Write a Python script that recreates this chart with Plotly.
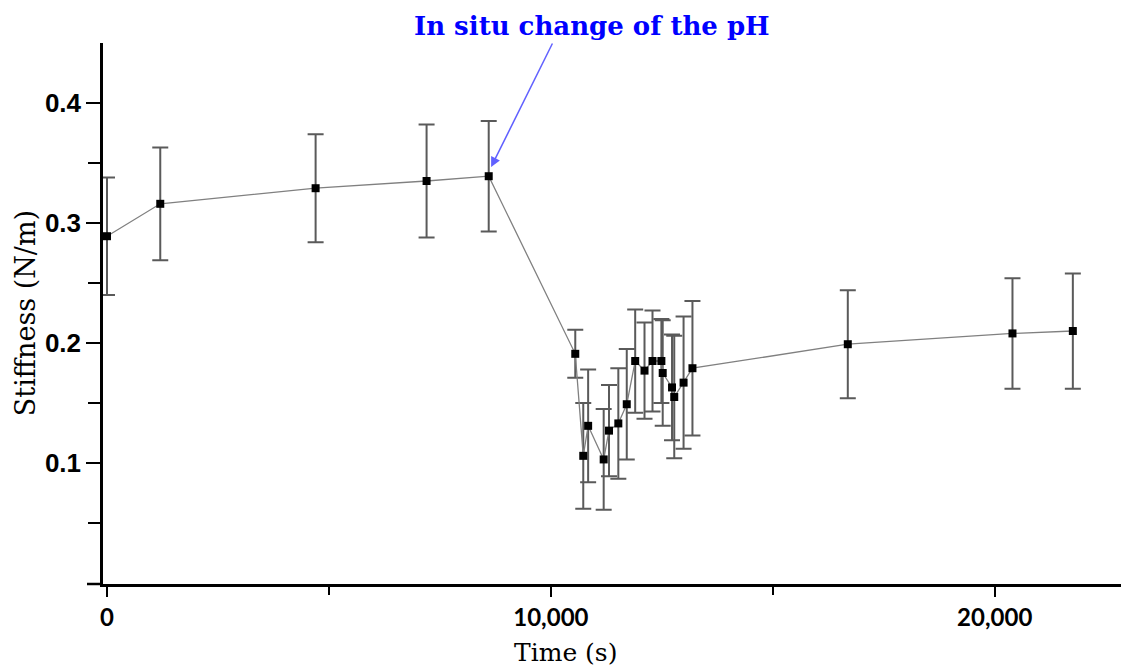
import plotly.graph_objects as go

# Data
time_s = [0, 1200, 4700, 7200, 8600, 10550, 10730, 10840, 11190, 11310, 11520,
          11710, 11900, 12110, 12290, 12490, 12520, 12730, 12780, 12990, 13190,
          16690, 20400, 21760]
stiffness = [0.289, 0.316, 0.329, 0.335, 0.339, 0.191, 0.106, 0.131, 0.103, 0.127,
             0.133, 0.149, 0.185, 0.177, 0.185, 0.185, 0.175, 0.163, 0.155, 0.167,
             0.179, 0.199, 0.208, 0.210]
stiff_err = [0.049, 0.047, 0.045, 0.047, 0.046, 0.020, 0.044, 0.047, 0.042, 0.038,
             0.046, 0.046, 0.043, 0.040, 0.042, 0.035, 0.044, 0.044, 0.051, 0.055,
             0.056, 0.045, 0.046, 0.048]

y_ticks = [0.1, 0.2, 0.3, 0.4]
y_ticklabels = ["0.1", "0.2", "0.3", "0.4"]
x_ticks = [0, 10000, 20000]
x_ticklabels = ["0", "10,000", "20,000"]

annot_text = "In situ change of the pH"
annot_x, annot_y = 8655, 0.3467
x_title = "Time (s)"
y_title = "Stiffness (N/m)"

fig = go.Figure()
fig.add_trace(go.Scatter(
    x=time_s, y=stiffness, mode="lines+markers",
    line=dict(color="#808080", width=1.3),
    marker=dict(symbol="square", size=8, color="black"),
    error_y=dict(type="data", array=stiff_err, visible=True,
                 color="#5a5a5a", thickness=2, width=8),
    showlegend=False,
))

fig.update_layout(
    width=1121, height=668,
    margin=dict(l=103, r=0, t=43, b=84),
    paper_bgcolor="white", plot_bgcolor="white",
    xaxis=dict(
        range=[-90, 22845], showgrid=False, zeroline=False,
        showline=True, linecolor="black", linewidth=2.5,
        ticks="outside", ticklen=10, tickwidth=2, tickcolor="black",
        tickvals=x_ticks, ticktext=x_ticklabels,
        tickfont=dict(family="Lato", size=24, color="black", weight="bold"),
        minor=dict(tickvals=[5000, 15000], ticks="outside", ticklen=8,
                   tickwidth=2, tickcolor="black", showgrid=False),
    ),
    yaxis=dict(
        range=[-0.0008, 0.45], showgrid=False, zeroline=False,
        showline=True, linecolor="black", linewidth=2.5,
        ticks="outside", ticklen=14, tickwidth=2, tickcolor="black",
        tickvals=y_ticks, ticktext=y_ticklabels,
        tickfont=dict(family="Liberation Sans", size=26, color="black", weight="bold"),
        minor=dict(tickvals=[0.05, 0.15, 0.25, 0.35], ticks="outside", ticklen=12,
                   tickwidth=2, tickcolor="black", showgrid=False),
    ),
    shapes=[dict(type="line", xref="paper", yref="paper", x0=-16/1018, x1=0,
                 y0=0, y1=0, line=dict(color="black", width=2.5))],
    annotations=[
        dict(x=annot_x, y=annot_y, xref="x", yref="y", text="", showarrow=True,
             ax=62, ay=-125, arrowcolor="rgba(70,70,255,0.85)", arrowwidth=1.5,
             arrowhead=2, arrowsize=1.3),
        dict(x=10930, y=1.031, xref="x", yref="paper", text=annot_text,
             showarrow=False, xanchor="center", yanchor="middle",
             font=dict(family="DejaVu Serif", size=26, color="#0000ff", weight="bold")),
        dict(x=0.4548, y=-0.1275, xref="paper", yref="paper", text=x_title,
             showarrow=False, xanchor="center", yanchor="middle",
             font=dict(family="DejaVu Serif", size=25, color="black")),
        dict(x=-0.0760, y=0.5, xref="paper", yref="paper", text=y_title,
             showarrow=False, xanchor="center", yanchor="middle", textangle=-90,
             font=dict(family="DejaVu Serif", size=27, color="black")),
    ],
)

fig.write_html(
    "out.html",
    config={"displayModeBar": False},
    post_script="document.body.style.margin='0';document.body.style.overflow='hidden';",
)
